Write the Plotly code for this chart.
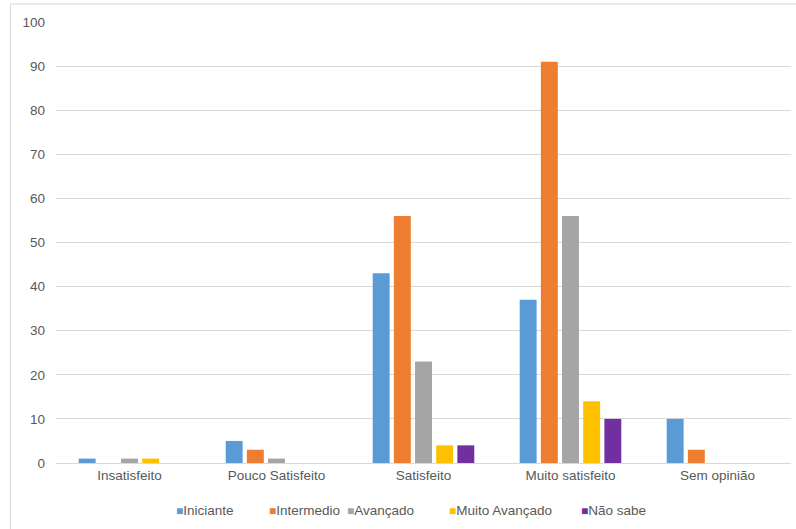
import plotly.graph_objects as go

categories = ["Insatisfeito", "Pouco Satisfeito", "Satisfeito", "Muito satisfeito", "Sem opinião"]
series_names = ["Iniciante", "Intermedio", "Avançado", "Muito Avançado", "Não sabe"]
iniciante = [1, 5, 43, 37, 10]
intermedio = [0, 3, 56, 91, 3]
avancado = [1, 1, 23, 56, 0]
muito_avancado = [1, 0, 4, 14, 0]
nao_sabe = [0, 0, 4, 10, 0]
colors = ["#5B9BD5", "#ED7D31", "#A5A5A5", "#FFC000", "#7030A0"]
y_ticks = list(range(0, 101, 10))
legend_x = [0.1612, 0.2864, 0.3935, 0.5313, 0.7122]

fig = go.Figure()
for name, vals, col in zip(series_names, [iniciante, intermedio, avancado, muito_avancado, nao_sabe], colors):
    fig.add_trace(go.Bar(x=categories, y=vals, name=name, marker=dict(color=col, line=dict(width=0))))

annotations = []
for name, col, lx in zip(series_names, colors, legend_x):
    annotations.append(dict(
        xref="paper", yref="paper", x=lx, y=-0.1066, xanchor="left", yanchor="middle",
        showarrow=False,
        text=f'<span style="color:{col};font-size:12px">■</span>{name}',
        font=dict(size=13.5, color="#595959", family="Liberation Sans, Arial"),
    ))

fig.update_layout(
    width=796, height=529,
    margin=dict(l=56, r=5, t=22, b=66),
    paper_bgcolor="white", plot_bgcolor="white",
    barmode="group", bargap=0.28, bargroupgap=0.2,
    font=dict(family="Liberation Sans, Arial", size=13.5, color="#595959"),
    xaxis=dict(showgrid=False, showline=True, linecolor="#D9D9D9", linewidth=1, ticks="",
               tickfont=dict(size=13.5, color="#595959")),
    yaxis=dict(range=[0, 100], tickvals=y_ticks, showgrid=True, gridcolor="#D9D9D9", gridwidth=1,
               zeroline=False, ticks="", tickfont=dict(size=13.5, color="#595959"), ticklabelstandoff=10),
    showlegend=False,
    annotations=annotations,
    shapes=[dict(type="rect", xref="paper", yref="paper", x0=-0.062, x1=1.02, y0=-0.2, y1=1.041,
                 line=dict(color="#D9D9D9", width=1), fillcolor="rgba(0,0,0,0)", layer="below")],
)

fig.write_html("out.html", config={"displayModeBar": False},
               post_script="document.body.style.margin='0';")
